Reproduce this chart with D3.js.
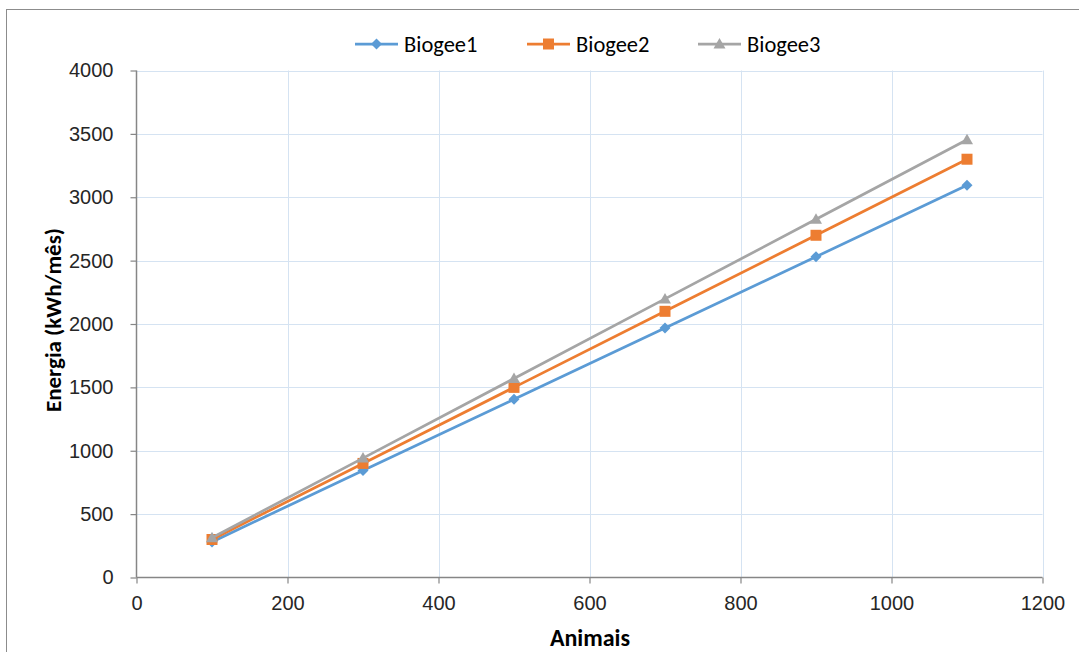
<!DOCTYPE html>
<html>
<head>
<meta charset="utf-8">
<script src="https://cdn.jsdelivr.net/npm/d3@7"></script>
<style>
  html, body { margin: 0; padding: 0; background: #fff; }
  svg { display: block; font-family: Carlito, Calibri, "Liberation Sans", Arial, sans-serif; }
</style>
</head>
<body>
<svg id="chart" width="1079" height="652"></svg>
<script>
// Animals on farm vs. monthly energy production for three biodigester setups
const animals = [100, 300, 500, 700, 900, 1100];
const biogee1 = [281, 844, 1406, 1969, 2531, 3094];
const biogee2 = [300, 900, 1500, 2100, 2700, 3300];
const biogee3 = [314, 942, 1570, 2198, 2826, 3454];

const seriesNames = ["Biogee1", "Biogee2", "Biogee3"];
const seriesColors = ["#5b9bd5", "#ed7d31", "#a5a5a5"];
const seriesShapes = ["diamond", "square", "triangle"];

const xTicks = [0, 200, 400, 600, 800, 1000, 1200];
const yTicks = [0, 500, 1000, 1500, 2000, 2500, 3000, 3500, 4000];

const series = [biogee1, biogee2, biogee3].map((vals, i) => ({
  name: seriesNames[i],
  color: seriesColors[i],
  shape: seriesShapes[i],
  points: animals.map((a, j) => ({ x: a, y: vals[j] }))
}));

// marker outlines, centred on the data point
function markerPath(shape) {
  if (shape === "diamond") return "M0,-5.5L5.5,0L0,5.5L-5.5,0Z";
  if (shape === "square") return "M-5.5,-5.5H5.5V5.5H-5.5Z";
  return "M0,-6L6,4.5H-6Z";
}

const svg = d3.select("#chart");
const plot = { left: 136.5, right: 1042.5, top: 70.5, bottom: 577.5 };

const x = d3.scaleLinear().domain([0, 1200]).range([plot.left, plot.right]);
const y = d3.scaleLinear().domain([0, 4000]).range([plot.bottom, plot.top]);

// outer chart frame
svg.append("rect")
  .attr("x", 6.5).attr("y", 9.5)
  .attr("width", 1200).attr("height", 800)
  .attr("fill", "none").attr("stroke", "#8c8c8c").attr("stroke-width", 1);

// gridlines
const grid = svg.append("g").attr("stroke", "#d5e3f2").attr("stroke-width", 1);
grid.selectAll("line.h").data(yTicks.filter(d => d > 0)).join("line")
  .attr("x1", plot.left).attr("x2", plot.right)
  .attr("y1", d => Math.round(y(d)) + 0.5).attr("y2", d => Math.round(y(d)) + 0.5);
grid.selectAll("line.v").data(xTicks.filter(d => d > 0)).join("line")
  .attr("y1", plot.top).attr("y2", plot.bottom)
  .attr("x1", d => Math.round(x(d)) + 0.5).attr("x2", d => Math.round(x(d)) + 0.5);

// axes
const axisColor = "#868686";
const xAxis = svg.append("g")
  .attr("transform", `translate(0,${plot.bottom})`)
  .call(d3.axisBottom(x).tickValues(xTicks).tickSize(6).tickPadding(12).tickFormat(d3.format("d")));
const yAxis = svg.append("g")
  .attr("transform", `translate(${plot.left},0)`)
  .call(d3.axisLeft(y).tickValues(yTicks).tickSize(6).tickPadding(17).tickFormat(d3.format("d")));
[xAxis, yAxis].forEach(g => {
  g.select(".domain").attr("stroke", axisColor).attr("stroke-width", 1.5);
  g.selectAll(".tick line").attr("stroke", axisColor).attr("stroke-width", 1.2);
  g.selectAll(".tick text").attr("fill", "#262626").style("font-size", "20px");
});
xAxis.select(".domain").attr("d", `M${plot.left},0H${plot.right}`);
yAxis.select(".domain").attr("d", `M0,${plot.top}V${plot.bottom}`);

// axis titles
svg.append("text")
  .attr("x", (plot.left + plot.right) / 2 + 0.5).attr("y", 646)
  .attr("text-anchor", "middle")
  .attr("fill", "#000").style("font-size", "24px").style("font-weight", "bold")
  .text("Animais");
svg.append("text")
  .attr("transform", `translate(61,${(plot.top + plot.bottom) / 2 - 4}) rotate(-90)`)
  .attr("text-anchor", "middle")
  .attr("fill", "#000").style("font-size", "23px").style("font-weight", "bold")
  .text("Energia (kWh/mês)");

// lines and markers
const line = d3.line().x(d => x(d.x)).y(d => y(d.y));

series.forEach(s => {
  svg.append("path")
    .datum(s.points)
    .attr("d", line)
    .attr("fill", "none")
    .attr("stroke", s.color)
    .attr("stroke-width", 2.75)
    .attr("stroke-linejoin", "round");
  svg.append("g").selectAll("path").data(s.points).join("path")
    .attr("transform", d => `translate(${x(d.x)},${y(d.y)})`)
    .attr("d", markerPath(s.shape))
    .attr("fill", s.color);
});

// legend
const legendX = [355, 527, 698];
const legendY = 44;
const legend = svg.append("g");
series.forEach((s, i) => {
  const g = legend.append("g").attr("transform", `translate(${legendX[i]},${legendY})`);
  g.append("line").attr("x1", 0).attr("x2", 43).attr("y1", 0).attr("y2", 0)
    .attr("stroke", s.color).attr("stroke-width", 2.75);
  g.append("path").attr("transform", "translate(21.5,0)")
    .attr("d", markerPath(s.shape))
    .attr("fill", s.color);
  g.append("text").attr("x", 49).attr("y", 7.5)
    .attr("fill", "#000").style("font-size", "22.5px")
    .text(s.name);
});
</script>
</body>
</html>
